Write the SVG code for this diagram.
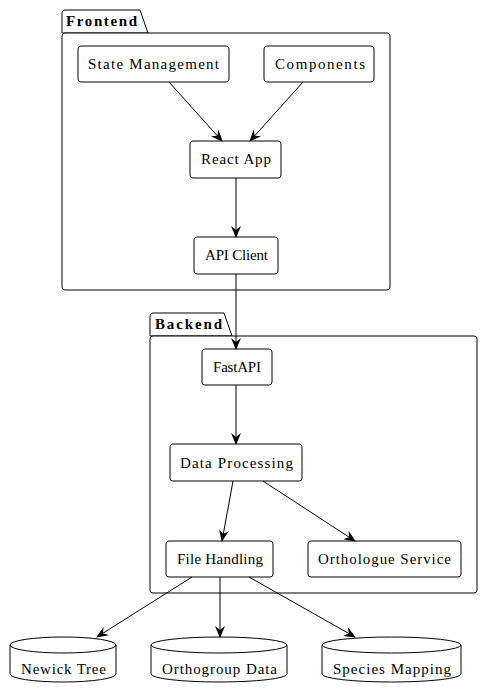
<svg xmlns="http://www.w3.org/2000/svg" width="483" height="699" viewBox="0 0 483 699">
<defs>
<style>
.pkg{fill:#fff;stroke:#000;stroke-width:1}
.node{fill:#fff;stroke:#000;stroke-width:1}
.t{font-family:"Liberation Serif","DejaVu Serif",serif;font-size:15px;fill:#000}
.tb{font-family:"Liberation Serif","DejaVu Serif",serif;font-size:15px;font-weight:bold;fill:#000}
.e{fill:none;stroke:#000;stroke-width:1}
</style>
<marker id="ah" viewBox="0 0 12 10" refX="11" refY="5" markerWidth="12" markerHeight="10" markerUnits="userSpaceOnUse" orient="auto">
<path d="M0,0 L12,5 L0,10 L4,5 Z" fill="#000"/>
</marker>
</defs>
<rect width="483" height="699" fill="#fff"/>
<g id="frontend">
<path class="pkg" d="M62,33 L62,13 Q62,10 65,10 L140,10 L148,33 Z"/>
<rect class="pkg" x="62" y="33" width="328" height="257" rx="3"/>
<text class="tb" x="66" y="26" textLength="71" lengthAdjust="spacing">Frontend</text>
</g>
<g id="backend">
<path class="pkg" d="M150,336 L150,316 Q150,313 153,313 L224,313 L232,336 Z"/>
<rect class="pkg" x="150" y="336" width="327" height="257" rx="3"/>
<text class="tb" x="155" y="329" textLength="67" lengthAdjust="spacing">Backend</text>
</g>
<g id="state-management">
<rect class="node" x="78" y="46" width="151" height="36" rx="3"/>
<text class="t" x="88" y="69" textLength="131" lengthAdjust="spacing">State Management</text>
</g>
<g id="components">
<rect class="node" x="264" y="46" width="110" height="36" rx="3"/>
<text class="t" x="275" y="69" textLength="90" lengthAdjust="spacing">Components</text>
</g>
<g id="react-app">
<rect class="node" x="190" y="141" width="91" height="37" rx="3"/>
<text class="t" x="201" y="164" textLength="70" lengthAdjust="spacing">React App</text>
</g>
<g id="api-client">
<rect class="node" x="194" y="237" width="84" height="37" rx="3"/>
<text class="t" x="205" y="260" textLength="63" lengthAdjust="spacing">API Client</text>
</g>
<g id="fastapi">
<rect class="node" x="202" y="349" width="70" height="36" rx="3"/>
<text class="t" x="213" y="372" textLength="48" lengthAdjust="spacing">FastAPI</text>
</g>
<g id="data-processing">
<rect class="node" x="170" y="444" width="132" height="37" rx="3"/>
<text class="t" x="180" y="468" textLength="113" lengthAdjust="spacing">Data Processing</text>
</g>
<g id="file-handling">
<rect class="node" x="166" y="541" width="107" height="36" rx="3"/>
<text class="t" x="177" y="564" textLength="86" lengthAdjust="spacing">File Handling</text>
</g>
<g id="orthologue-service">
<rect class="node" x="308" y="541" width="153" height="36" rx="3"/>
<text class="t" x="318" y="564" textLength="133" lengthAdjust="spacing">Orthologue Service</text>
</g>
<g id="newick-tree">
<path class="node" d="M10,645 L10,674 A53,8 0 0 0 116,674 L116,645 A53,8 0 0 0 10,645 Z"/>
<path class="e" d="M10,645 A53,8 0 0 0 116,645"/>
<text class="t" x="21" y="674" textLength="85" lengthAdjust="spacing">Newick Tree</text>
</g>
<g id="orthogroup-data">
<path class="node" d="M151,645 L151,674 A68,8 0 0 0 287,674 L287,645 A68,8 0 0 0 151,645 Z"/>
<path class="e" d="M151,645 A68,8 0 0 0 287,645"/>
<text class="t" x="162" y="674" textLength="115" lengthAdjust="spacing">Orthogroup Data</text>
</g>
<g id="species-mapping">
<path class="node" d="M322,645 L322,674 A69.5,8 0 0 0 461,674 L461,645 A69.5,8 0 0 0 322,645 Z"/>
<path class="e" d="M322,645 A69.5,8 0 0 0 461,645"/>
<text class="t" x="333" y="674" textLength="118" lengthAdjust="spacing">Species Mapping</text>
</g>
<g id="connectors" fill="none" stroke="#000" stroke-width="1">
<line x1="169" y1="82" x2="222" y2="141" marker-end="url(#ah)"/>
<line x1="303" y1="82" x2="250" y2="141" marker-end="url(#ah)"/>
<line x1="236" y1="178" x2="236" y2="237" marker-end="url(#ah)"/>
<line x1="236" y1="274" x2="236" y2="349" marker-end="url(#ah)"/>
<line x1="236" y1="385" x2="236" y2="444" marker-end="url(#ah)"/>
<line x1="233" y1="481" x2="222" y2="541" marker-end="url(#ah)"/>
<line x1="263" y1="481" x2="355" y2="541" marker-end="url(#ah)"/>
<line x1="192" y1="577" x2="97" y2="637" marker-end="url(#ah)"/>
<line x1="220" y1="577" x2="220" y2="637" marker-end="url(#ah)"/>
<line x1="249" y1="577" x2="355" y2="637" marker-end="url(#ah)"/>
</g>
</svg>
